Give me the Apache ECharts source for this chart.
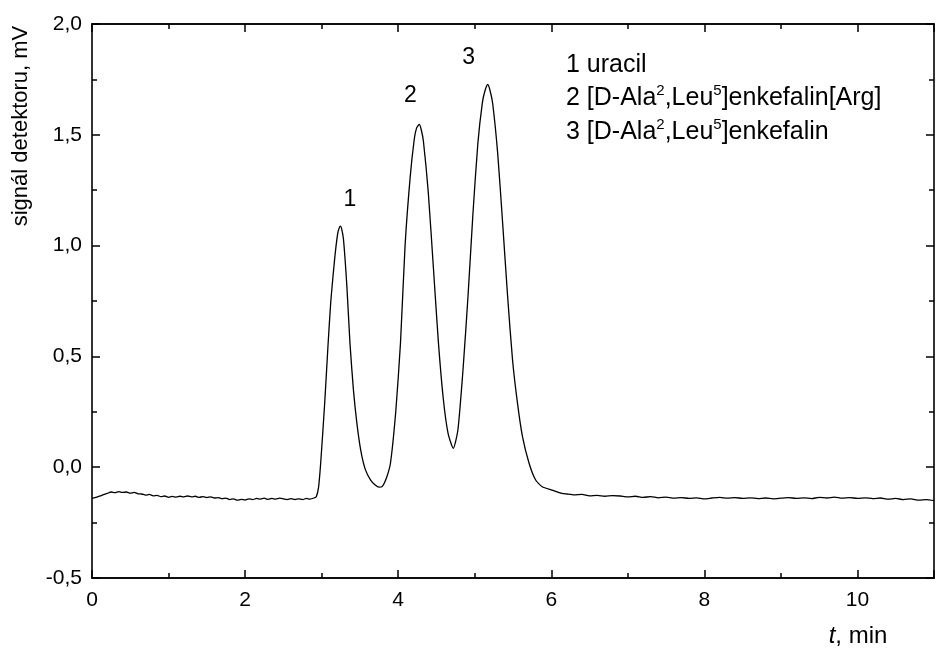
<!DOCTYPE html>
<html>
<head>
<meta charset="utf-8">
<script src="https://cdn.jsdelivr.net/npm/echarts@6/dist/echarts.min.js"></script>
<style>
html,body{margin:0;padding:0;background:#fff;}
#chart{width:937px;height:648px;}
</style>
</head>
<body>
<div id="chart"></div>
<script>
// time axis (min)
const time = [
  0.00,0.05,0.10,0.15,0.20,0.25,0.30,0.35,0.40,0.45,0.50,0.55,0.60,0.65,0.70,0.75,0.80,0.85,0.90,0.95,
  1.00,1.05,1.10,1.15,1.20,1.25,1.30,1.35,1.40,1.45,1.50,1.55,1.60,1.65,1.70,1.75,1.80,1.85,1.90,1.95,
  2.00,2.05,2.10,2.15,2.20,2.25,2.30,2.35,2.40,2.45,2.50,2.55,2.60,2.65,2.70,2.75,2.80,2.85,2.90,
  2.93,2.96,2.99,3.04,3.08,3.12,3.17,3.21,3.23,3.245,3.26,3.285,3.33,3.37,3.415,3.46,3.51,3.57,3.64,3.70,3.75,3.79,3.85,
  3.90,3.97,4.03,4.09,4.157,4.21,4.24,4.275,4.30,4.33,4.394,4.46,4.524,4.589,4.653,4.72,
  4.78,4.847,4.912,4.977,5.041,5.10,5.135,5.17,5.20,5.235,5.30,5.365,5.43,5.494,5.559,5.624,5.71,5.796,5.882,6.01,6.14,
  6.2,6.3,6.4,6.5,6.6,6.7,6.8,6.9,7.0,7.1,7.2,7.3,7.4,7.5,7.6,7.7,7.8,7.9,8.0,8.1,8.2,8.3,8.4,8.5,8.6,8.7,8.8,8.9,
  9.0,9.1,9.2,9.3,9.4,9.5,9.6,9.7,9.8,9.9,10.0,10.1,10.2,10.3,10.4,10.5,10.6,10.7,10.8,10.9,11.0
];
// detector signal (mV)
const signal = [
  -0.141,-0.136,-0.131,-0.124,-0.118,-0.112,-0.115,-0.110,-0.114,-0.112,-0.117,-0.114,-0.120,-0.121,-0.126,-0.123,-0.129,-0.127,-0.133,-0.130,
  -0.136,-0.132,-0.135,-0.131,-0.134,-0.130,-0.134,-0.131,-0.136,-0.133,-0.137,-0.134,-0.139,-0.137,-0.142,-0.140,-0.146,-0.143,-0.149,-0.145,
  -0.148,-0.143,-0.146,-0.141,-0.144,-0.140,-0.145,-0.141,-0.144,-0.140,-0.143,-0.146,-0.142,-0.146,-0.143,-0.146,-0.141,-0.144,-0.139,
  -0.133,-0.090,0.030,0.290,0.530,0.750,0.940,1.055,1.080,1.088,1.078,1.030,0.815,0.560,0.350,0.200,0.078,-0.010,-0.058,-0.080,-0.090,-0.088,-0.045,
  0.020,0.258,0.560,1.000,1.310,1.480,1.530,1.547,1.525,1.470,1.236,0.900,0.570,0.310,0.150,0.085,
  0.168,0.440,0.770,1.146,1.462,1.645,1.700,1.727,1.700,1.640,1.416,1.100,0.769,0.484,0.288,0.138,0.018,-0.058,-0.088,-0.103,-0.118,
  -0.121,-0.125,-0.123,-0.129,-0.127,-0.131,-0.128,-0.130,-0.134,-0.131,-0.136,-0.133,-0.138,-0.135,-0.140,-0.137,-0.141,-0.138,-0.143,-0.139,-0.136,-0.140,-0.137,-0.141,-0.138,-0.142,-0.139,-0.143,
  -0.140,-0.137,-0.141,-0.138,-0.142,-0.136,-0.139,-0.135,-0.140,-0.137,-0.141,-0.138,-0.142,-0.139,-0.144,-0.141,-0.146,-0.143,-0.149,-0.146,-0.151
];
// peak numbers and their label positions (data units)
const peakLabels = ['1', '2', '3'];
const peakLabelT = [3.37, 4.16, 4.92];
const peakLabelY = [1.206, 1.676, 1.847];
// compound legend lines
const compoundLines = [
  '{n|1 uracil}',
  '{n|2 [D-Ala}{s|2}{n|,Leu}{s|5}{n|]enkefalin[Arg]}',
  '{n|3 [D-Ala}{s|2}{n|,Leu}{s|5}{n|]enkefalin}'
];
const yTitle = 'signál detektoru, mV';

const FONT = 'Arial, "Liberation Sans", Helvetica, sans-serif';
const chart = echarts.init(document.getElementById('chart'), null, {renderer: 'canvas'});

const axisLineStyle = {color: '#000', width: 1.6};
const tickStyle = {color: '#000', width: 1.5};

function xAx(pos, interval, len, labels) {
  return {
    type: 'value', position: pos, min: 0, max: 11, interval: interval,
    axisLine: {show: true, onZero: false, lineStyle: axisLineStyle},
    axisTick: {show: true, inside: true, length: len, lineStyle: tickStyle},
    axisLabel: labels ? {
      show: true, color: '#000', fontSize: 21, fontFamily: FONT, margin: 12,
      formatter: v => (v % 2 === 0 ? String(v) : '')
    } : {show: false},
    splitLine: {show: false}
  };
}
function yAx(pos, labels) {
  return {
    type: 'value', position: pos, min: -0.5, max: 2, interval: 0.5,
    axisLine: {show: true, onZero: false, lineStyle: axisLineStyle},
    axisTick: {show: true, inside: true, length: 8, lineStyle: tickStyle},
    minorTick: {show: true, splitNumber: 2, length: 5, lineStyle: tickStyle},
    axisLabel: labels ? {
      show: true, color: '#000', fontSize: 21, fontFamily: FONT, margin: 10,
      formatter: v => v.toFixed(1).replace('.', ',')
    } : {show: false},
    splitLine: {show: false},
    minorSplitLine: {show: false}
  };
}

const legendGraphics = compoundLines.map((txt, i) => ({
  type: 'text',
  x: 566, y: 65 + i * 33.5,
  silent: true,
  style: {
    text: txt,
    textVerticalAlign: 'middle', verticalAlign: 'middle',
    textAlign: 'left', align: 'left',
    rich: {
      n: {fontSize: 25, fontFamily: FONT, fill: '#000', color: '#000', lineHeight: 30},
      s: {fontSize: 15, fontFamily: FONT, fill: '#000', color: '#000', verticalAlign: 'top', lineHeight: 30, padding: [0, 0, 11, 0]}
    }
  }
}));

const option = {
  animation: false,
  backgroundColor: '#fff',
  grid: {left: 92, right: -5, top: 24, bottom: 70, containLabel: false},
  xAxis: [
    xAx('bottom', 2, 8, true),
    xAx('bottom', 1, 5, false),
    xAx('top', 2, 8, false),
    xAx('top', 1, 5, false)
  ],
  yAxis: [yAx('left', true), yAx('right', false)],
  series: [{
    type: 'line',
    xAxisIndex: 0, yAxisIndex: 0,
    data: time.map((t, i) => [t, signal[i]]),
    showSymbol: false,
    symbol: 'none',
    smooth: 0.2,
    lineStyle: {color: '#000', width: 1.3},
    markPoint: {
      symbol: 'circle', symbolSize: 0,
      label: {show: true, position: 'inside', color: '#000', fontSize: 23, fontFamily: FONT, formatter: p => p.name},
      data: peakLabels.map((n, i) => ({name: n, coord: [peakLabelT[i], peakLabelY[i]]}))
    }
  }],
  graphic: [
    {
      type: 'text', x: 21, y: 126, rotation: Math.PI / 2, silent: true,
      style: {text: yTitle, font: '22px ' + FONT, fill: '#000',
        textAlign: 'center', align: 'center', textVerticalAlign: 'middle', verticalAlign: 'middle'}
    },
    {
      type: 'text', x: 858, y: 636, silent: true,
      style: {
        text: '{i|t}{n|, min}',
        textAlign: 'center', align: 'center', textVerticalAlign: 'middle', verticalAlign: 'middle',
        rich: {
          i: {fontSize: 24, fontStyle: 'italic', fontFamily: FONT, fill: '#000', color: '#000'},
          n: {fontSize: 24, fontFamily: FONT, fill: '#000', color: '#000'}
        }
      }
    }
  ].concat(legendGraphics)
};
chart.setOption(option);
</script>
</body>
</html>
